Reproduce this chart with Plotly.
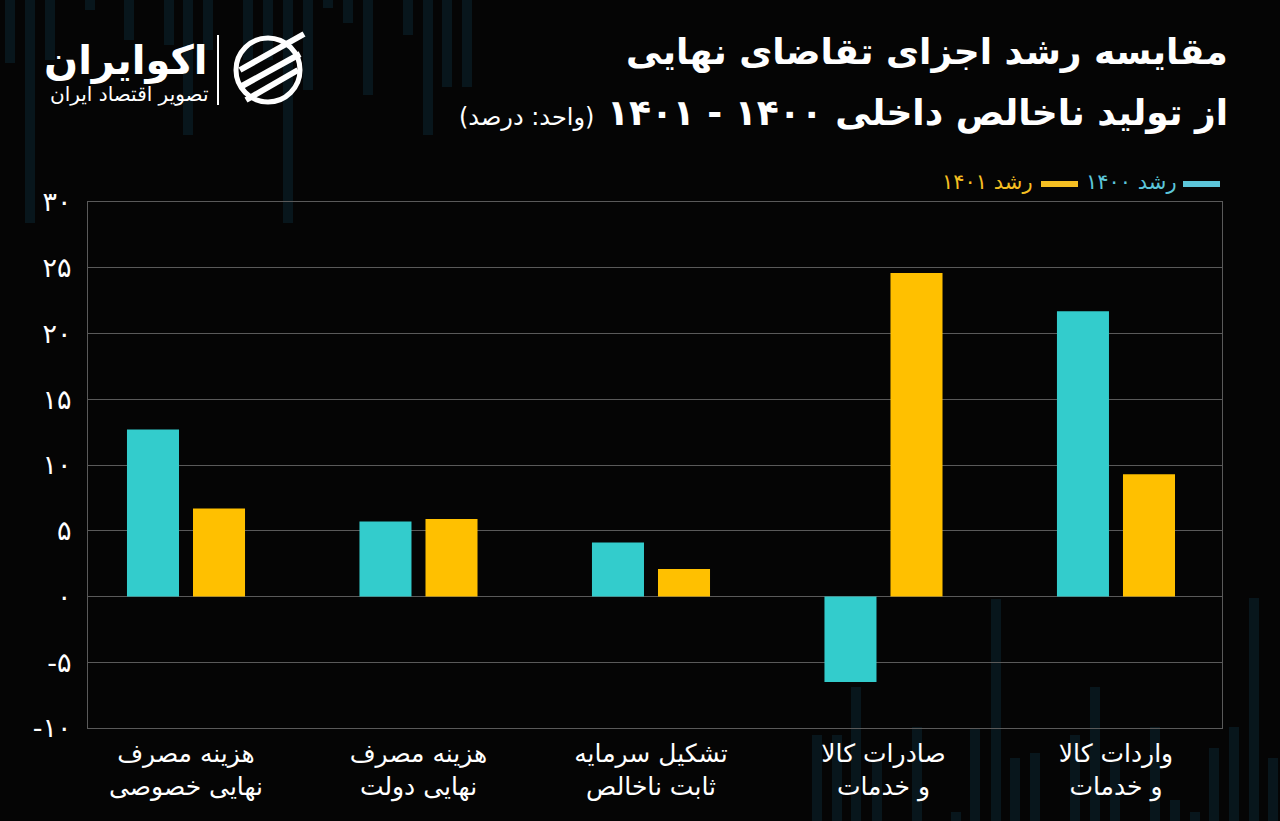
import plotly.graph_objects as go

# ---------------- data ----------------
categories = [
    "هزینه مصرف<br>نهایی خصوصی",
    "هزینه مصرف<br>نهایی دولت",
    "تشکیل سرمایه<br>ثابت ناخالص",
    "صادرات کالا<br>و خدمات",
    "واردات کالا<br>و خدمات",
]
growth_1400 = [12.7, 5.7, 4.1, -6.5, 21.7]
growth_1401 = [6.7, 5.9, 2.1, 24.6, 9.3]
series_names = ["رشد ۱۴۰۰", "رشد ۱۴۰۱"]
y_ticks = [-10, -5, 0, 5, 10, 15, 20, 25, 30]

title_line1 = "مقایسه رشد اجزای تقاضای نهایی"
title_line2 = "از تولید ناخالص داخلی ۱۴۰۰ - ۱۴۰۱"
unit_text = "(واحد: درصد)"
brand = "اکوایران"
brand_sub = "تصویر اقتصاد ایران"

# ---------------- style ----------------
W, H = 1280, 821
L, R, T, B = 88, 58, 202, 93
BG = "#050505"
TEAL = "#33CCCC"
YELLOW = "#FFC000"
TEAL_TXT = "#5CC6DA"
YELLOW_TXT = "#F5BF22"
GRID = "#5a5a5a"
STRIPE = "#08161c"
FONT = "DejaVu Sans"

# decorative background stripes (pixel x-centre, y-start, y-end)
bg_stripes = [
    (10, 0, 63), (30, 0, 223), (50, 0, 60), (90, 0, 10), (129, 0, 40), (169, 0, 45),
    (188, 0, 135), (208, 0, 50), (248, 0, 60), (268, 0, 60), (288, 0, 223), (308, 0, 90),
    (328, 0, 8), (348, 0, 23), (368, 0, 95), (408, 0, 35), (428, 0, 135), (447, 0, 87),
    (467, 0, 87),
    (817, 735, 821), (837, 735, 821), (856, 687, 821), (877, 760, 821), (917, 727, 821),
    (956, 812, 821), (975, 728, 821), (996, 599, 821), (1015, 758, 821), (1035, 753, 821),
    (1075, 735, 821), (1095, 687, 821), (1115, 760, 821), (1155, 727, 821), (1175, 800, 821),
    (1195, 812, 821), (1214, 748, 821), (1234, 727, 821), (1254, 598, 821), (1273, 758, 821),
]

def fa_digits(v):
    s = str(v)
    return s.translate(str.maketrans("0123456789", "۰۱۲۳۴۵۶۷۸۹"))

def px(x):
    return (x - L) / (W - L - R)

def py(y):
    return (H - B - y) / (H - T - B)

fig = go.Figure()
fig.add_trace(go.Bar(x=categories, y=growth_1400, name=series_names[0],
                     marker=dict(color=TEAL, line=dict(width=0)), showlegend=False))
fig.add_trace(go.Bar(x=categories, y=growth_1401, name=series_names[1],
                     marker=dict(color=YELLOW, line=dict(width=0)), showlegend=False))

fig.update_layout(
    width=W, height=H,
    margin=dict(l=L, r=R, t=T, b=B, pad=0),
    paper_bgcolor=BG, plot_bgcolor="rgba(0,0,0,0)",
    barmode="group", bargap=0.432, bargroupgap=0.212,
    font=dict(family=FONT, color="white"),
    showlegend=False,
)
fig.update_xaxes(
    range=[-0.4215, 4.456], showgrid=False, showline=True, mirror=True,
    linecolor=GRID, linewidth=1, ticks="",
    tickfont=dict(family=FONT, size=25, color="white"),
    ticklabelstandoff=3, fixedrange=True,
)
fig.update_yaxes(
    range=[-10, 30], tickvals=y_ticks, ticktext=[fa_digits(v) for v in y_ticks],
    showgrid=True, gridcolor=GRID, gridwidth=1, zeroline=False,
    showline=True, mirror=True, linecolor=GRID, linewidth=1, ticks="",
    tickfont=dict(family=FONT, size=27, color="white"),
    ticklabelstandoff=10, fixedrange=True,
)

RLM = "\u200f"
ann = []
# title
ann.append(dict(x=px(1230), y=py(52), xref="paper", yref="paper", xanchor="right", yanchor="middle",
                text=RLM + title_line1 + RLM, showarrow=False,
                font=dict(family=FONT, size=36, color="white", weight="bold")))
ann.append(dict(x=px(1230), y=py(113), xref="paper", yref="paper", xanchor="right", yanchor="middle",
                text=RLM + title_line2 + " <span style='font-size:24px;font-weight:normal'>" + unit_text + "</span>" + RLM,
                showarrow=False,
                font=dict(family=FONT, size=36, color="white", weight="bold")))
# legend (custom, right-to-left)
ann.append(dict(x=px(1179), y=py(182), xref="paper", yref="paper", xanchor="right", yanchor="middle",
                text=RLM + series_names[0] + RLM, showarrow=False,
                font=dict(family=FONT, size=21, color=TEAL_TXT)))
ann.append(dict(x=px(1035), y=py(182), xref="paper", yref="paper", xanchor="right", yanchor="middle",
                text=RLM + series_names[1] + RLM, showarrow=False,
                font=dict(family=FONT, size=21, color=YELLOW_TXT)))
# brand
ann.append(dict(x=px(210), y=py(60), xref="paper", yref="paper", xanchor="right", yanchor="middle",
                text=RLM + brand + RLM, showarrow=False,
                font=dict(family=FONT, size=40, color="white", weight="bold")))
ann.append(dict(x=px(210), y=py(94), xref="paper", yref="paper", xanchor="right", yanchor="middle",
                text=RLM + brand_sub + RLM, showarrow=False,
                font=dict(family=FONT, size=20, color="white")))

shapes = []
for (xc, y0, y1) in bg_stripes:
    shapes.append(dict(type="rect", xref="paper", yref="paper", layer="below",
                       x0=px(xc - 5), x1=px(xc + 5), y0=py(y1), y1=py(y0),
                       fillcolor=STRIPE, line=dict(width=0)))
shapes.append(dict(type="line", xref="paper", yref="paper", x0=px(1183), x1=px(1220), y0=py(184), y1=py(184),
                   line=dict(color=TEAL_TXT, width=6)))
shapes.append(dict(type="line", xref="paper", yref="paper", x0=px(1041), x1=px(1078), y0=py(184), y1=py(184),
                   line=dict(color=YELLOW_TXT, width=6)))
# brand separator and icon
shapes.append(dict(type="line", xref="paper", yref="paper", x0=px(218), x1=px(218), y0=py(35), y1=py(105),
                   line=dict(color="white", width=2)))
shapes.append(dict(type="circle", xref="paper", yref="paper", x0=px(236), x1=px(300), y0=py(102), y1=py(38),
                   line=dict(color="white", width=5)))
for (x0, y0, x1, y1) in [(240, 70, 304, 34), (242, 86, 300, 54), (246, 100, 298, 70)]:
    shapes.append(dict(type="line", xref="paper", yref="paper", x0=px(x0), x1=px(x1), y0=py(y0), y1=py(y1),
                       line=dict(color="white", width=6)))

fig.update_layout(annotations=ann, shapes=shapes)
fig.write_html("out.html")
